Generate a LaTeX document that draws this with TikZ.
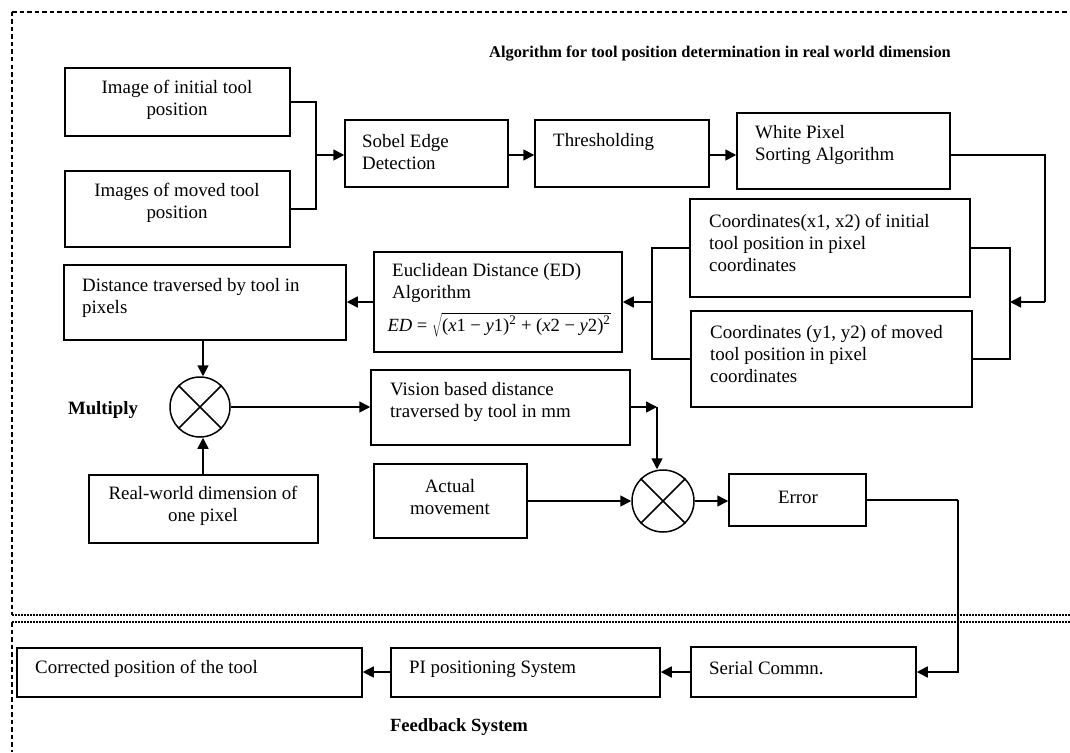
\documentclass[tikz,border=0pt]{standalone}
\usepackage{fontspec}
\setmainfont{Liberation Serif}
\usetikzlibrary{arrows.meta,fit,shapes.geometric}
\newcommand{\vx}[1]{\textit{x}#1}
\newcommand{\vy}[1]{\textit{y}#1}
\begin{document}
\begin{tikzpicture}[x=1pt,y=-1pt,
  box/.style={draw, line width=1.5pt, inner sep=0pt, fit={#1}},
  txt/.style={font=\fontsize{18.9}{22}\selectfont, inner sep=0pt, align=left, anchor=west},
  ctxt/.style={font=\fontsize{18.9}{22}\selectfont, inner sep=0pt, align=center},
  hdr/.style={font=\fontsize{#1}{#1}\selectfont\bfseries, inner sep=0pt},
  mult/.style={draw, circle, line width=1.5pt, minimum size=#1, inner sep=0pt},
  wire/.style={line width=1.6pt},
  arr/.style={line width=1.6pt, -{Triangle[length=11pt,width=11pt]}},
  frame/.style={line width=1.2pt, dash pattern=on 4.5pt off 3pt},
  dotline/.style={line width=1.2pt, dash pattern=on 1.6pt off 1.4pt}]
\useasboundingbox (0,0) rectangle (1070,752);

% region borders
\draw[frame] (12,12) -- (1070,12);
\draw[frame] (12,12) -- (12,615);
\draw[dotline] (12,615) -- (1070,615);
\draw[dotline] (12,622) -- (1070,622);
\draw[frame] (12,622) -- (12,752);

\node[hdr=16.4] (title) at (720,54) {Algorithm for tool position determination in real world dimension};

% image acquisition and processing chain
\node[box={(65,68) (290,136)}] (img1) {};
\node[ctxt] (img1t) at (177,100) {Image of initial tool\\position};
\node[box={(65,171) (290,247)}] (img2) {};
\node[ctxt] (img2t) at (177,203) {Images of moved tool\\position};

\node[box={(345,120) (508,187)}] (sobel) {};
\node[txt] (sobelt) at (362,152) {Sobel Edge\\Detection};
\node[box={(535,120) (709,187)}] (thr) {};
\node[txt] (thrt) at (553,142) {Thresholding};
\node[box={(737,113) (950,189)}] (white) {};
\node[txt] (whitet) at (755,145) {White Pixel\\Sorting Algorithm};

\node[box={(690,199) (970,297)}] (co1) {};
\node[txt] (co1t) at (709,242.5) {Coordinates(x1, x2) of initial\\tool position in pixel\\coordinates};
\node[box={(691,311) (972,407)}] (co2) {};
\node[txt] (co2t) at (710,353.5) {Coordinates (y1, y2) of moved\\tool position in pixel\\coordinates};

\node[box={(374,252) (622,352)}] (ed) {};
\node[txt] (edt) at (392,283) {Euclidean Distance (ED)\\Algorithm};
\node[inner sep=0pt, font=\fontsize{18.6}{20}\selectfont] (edf) at (499,325)
  {\textit{ED} = $\sqrt{\mbox{(\vx1 − \vy1)\textsuperscript{2} + (\vx2 − \vy2)\textsuperscript{2}}}$};

\node[box={(64,265) (346,340)}] (dist) {};
\node[txt] (distt) at (82,298) {Distance traversed by tool in\\pixels};

\node[mult=60pt] (m1) at (200,407) {};
\draw[line width=1.5pt] (m1.45) -- (m1.225) (m1.135) -- (m1.315);
\node[hdr=18.8] (multt) at (103,410) {Multiply};

\node[box={(89,475) (318,543)}] (real) {};
\node[ctxt] (realt) at (203,506) {Real-world dimension of\\one pixel};

\node[box={(371,370) (630,445)}] (vis) {};
\node[txt] (vist) at (390,402) {Vision based distance\\traversed by tool in mm};

\node[box={(374,464) (527,538)}] (act) {};
\node[ctxt] (actt) at (450,497) {Actual\\movement};

\node[mult=62pt] (m2) at (663,501) {};
\draw[line width=1.5pt] (m2.45) -- (m2.225) (m2.135) -- (m2.315);

\node[box={(729,474) (866,526)}] (err) {};
\node[ctxt] (errt) at (798,497) {Error};

% feedback chain
\node[box={(17,648) (362,697)}] (corr) {};
\node[txt] (corrt) at (35,669) {Corrected position of the tool};
\node[box={(391,648) (660,697)}] (pi) {};
\node[txt] (pit) at (409,669) {PI positioning System};
\node[box={(691,647) (916,697)}] (ser) {};
\node[txt] (sert) at (709,668) {Serial Commn.};
\node[hdr=18.6] (fbt) at (459,727) {Feedback System};

% junction points
\coordinate (j1) at (316,155);
\coordinate (jw) at (1045,302);
\coordinate (jr) at (1010,302);
\coordinate (jl) at (652,302);
\coordinate (vc) at (657,407);
\coordinate (je) at (958,500);

% connectors
\draw[wire] (img1.east) -| (j1) |- (img2.east);
\draw[arr] (j1) -- (sobel.west |- j1);
\draw[arr] (sobel.east |- j1) -- (thr.west |- j1);
\draw[arr] (thr.east |- j1) -- (white.west |- j1);
\draw[wire] (white.east |- j1) -| (jw);
\draw[arr] (jw) -- (jr);
\draw[wire] (co1.east) -| (jr) |- (co2.east);
\draw[wire] (co1.west) -| (jl) |- (co2.west);
\draw[arr] (jl) -- (ed.east);
\draw[arr] (ed.west) -- (dist.east |- ed.west);
\draw[arr] (dist.south -| 203,0) -- (203,0 |- m1.north);
\draw[arr] (real.north -| 203,0) -- (203,0 |- m1.south);
\draw[arr] (m1.east) -- (vis.west |- m1.east);
\draw[arr] (vis.east |- vc) -- (vc);
\draw[arr] (vc) -- (vc |- m2.north);
\draw[arr] (act.east |- m2.west) -- (m2.west);
\draw[arr] (m2.east) -- (err.west |- m2.east);
\draw[wire] (err.east) -- (je);
\draw[arr] (je) |- (ser.east);
\draw[arr] (ser.west) -- (pi.east |- ser.west);
\draw[arr] (pi.west |- ser.west) -- (corr.east |- ser.west);
\end{tikzpicture}
\end{document}
